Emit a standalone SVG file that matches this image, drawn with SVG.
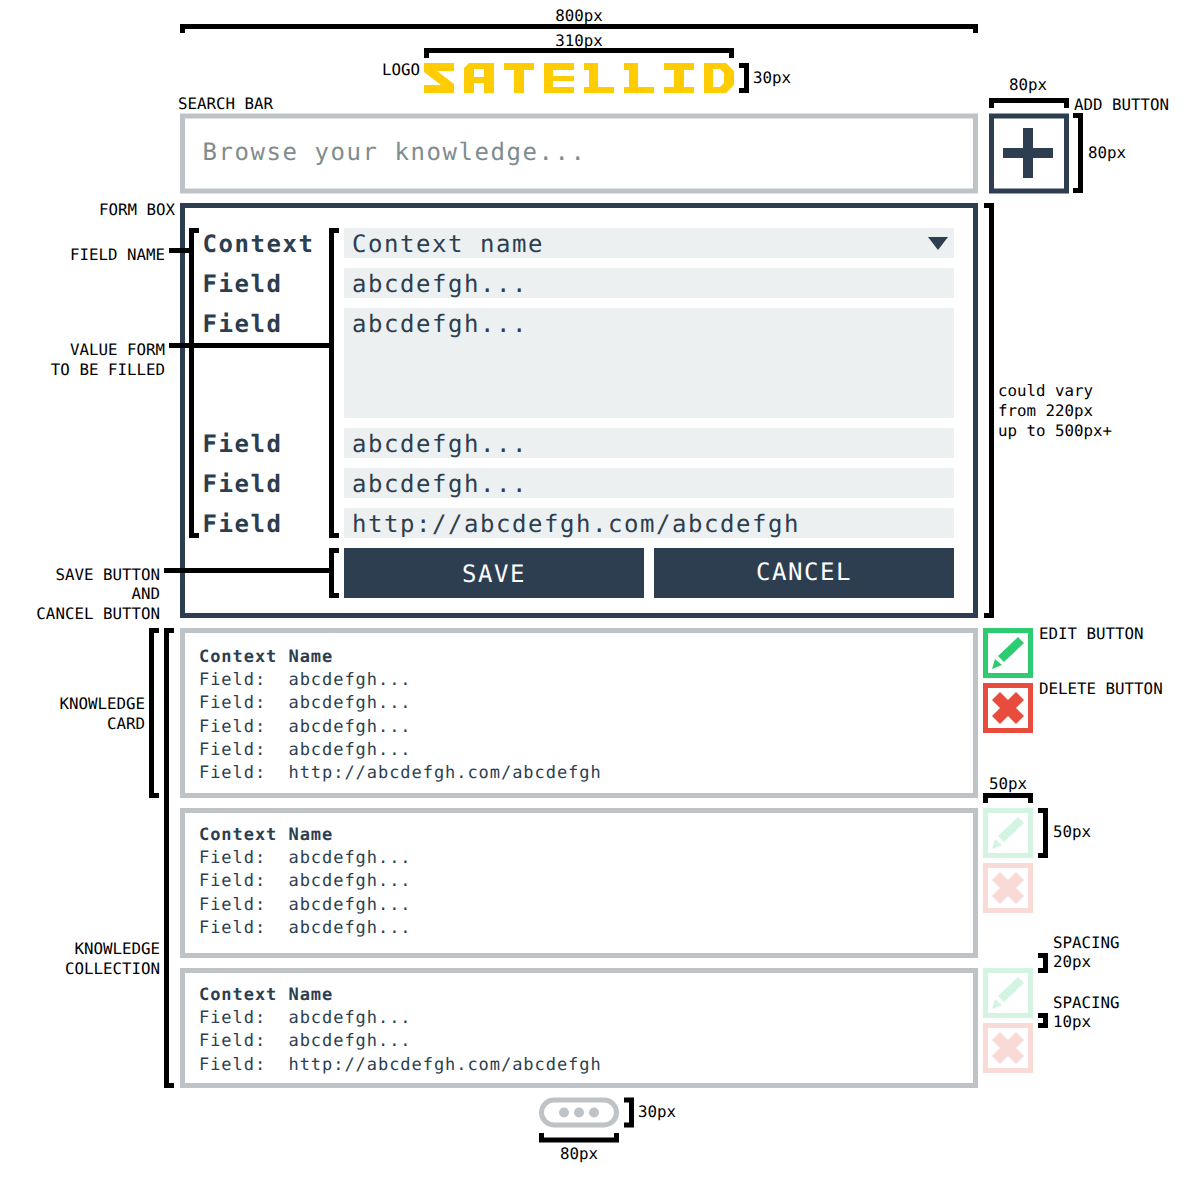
<svg xmlns="http://www.w3.org/2000/svg" width="1199" height="1199" viewBox="0 0 1199 1199">
<style>
text{text-rendering:geometricPrecision;white-space:pre}
.lb{font:15.800px "DejaVu Sans Mono",monospace;fill:#000}
.e{text-anchor:end}.m{text-anchor:middle}
.br{fill:none;stroke:#000;stroke-width:5}
.big{font:24px "DejaVu Sans Mono",monospace;letter-spacing:1.55px;fill:#2c3e50}
.ph{fill:#7f8c8d}
.cd{font:17px "DejaVu Sans Mono",monospace;letter-spacing:.95px;fill:#2c3e50}
.bb{font-weight:700}
.bx{fill:#fff;stroke-width:5}
.gr{stroke:#bdc3c7}.dk{stroke:#2c3e50}
.f{fill:#ecf0f1}.d{fill:#2c3e50}
.btxt{font:24px "DejaVu Sans Mono",monospace;letter-spacing:1.55px;fill:#fff;text-anchor:middle}
.y{fill:#fc0}
</style>
<defs>
<g id="edit"><rect x="2.5" y="2.5" width="45" height="45" fill="#fff" stroke="#2ecc71" stroke-width="5"/><path fill="#2ecc71" d="M35 9L41 15L21 34L15 28ZM9 41L12 31L19 37Z"/></g>
<g id="del"><rect x="2.5" y="2.5" width="45" height="45" fill="#fff" stroke="#e74c3c" stroke-width="5"/><path fill="#e74c3c" d="M17 9L25 17L33 9L41 17L33 25L41 33L33 41L25 33L17 41L9 33L17 25L9 17Z"/></g>
</defs>
<rect width="1199" height="1199" fill="#fff"/>

<g id="logo" class="y">
<path d="M424 63H454V71H437L454 84V93H424V85H441L424 72Z"/>
<path fill-rule="evenodd" d="M469 63H494V93H484V83H474V93H464V68ZM474 69V77H484V69Z"/>
<path d="M504 63H534V70H524V93H514V70H504Z"/>
<path d="M544 63H574V70H553V76H574V81H553V87H574V93H544Z"/>
<path d="M584 63H598V87H614V93H584V87H589V70H584Z"/>
<path d="M624 63H638V87H654V93H624V87H629V70H624Z"/>
<path d="M664 63H694V70H684V87H694V93H664V87H674V70H664Z"/>
<path fill-rule="evenodd" d="M704 63H726L734 71V85L726 93H704ZM713 69V87H720L724 83V73L720 69Z"/>
</g>

<g id="search-bar">
<rect class="bx gr" x="182.500" y="116" width="793" height="75"/>
<text class="big ph" x="202.500" y="160">Browse your knowledge...</text>
</g>

<g id="add-button">
<rect class="bx dk" x="991.500" y="116" width="75" height="75"/>
<path class="d" d="M1023 128H1033V148H1053V158H1033V178H1023V158H1003V148H1023Z"/>
</g>

<g id="form-box">
<rect class="bx dk" x="182.500" y="205.500" width="793" height="410"/>
<rect class="f" x="344" y="228" width="610" height="30"/>
<rect class="f" x="344" y="268" width="610" height="30"/>
<rect class="f" x="344" y="308" width="610" height="110"/>
<rect class="f" x="344" y="428" width="610" height="30"/>
<rect class="f" x="344" y="468" width="610" height="30"/>
<rect class="f" x="344" y="508" width="610" height="30"/>
<path class="d" d="M928 237H948L938 250Z"/>
<text class="big bb" x="202.500" y="252">Context</text>
<text class="big bb" x="202.500" y="292">Field</text>
<text class="big bb" x="202.500" y="332">Field</text>
<text class="big bb" x="202.500" y="452">Field</text>
<text class="big bb" x="202.500" y="492">Field</text>
<text class="big bb" x="202.500" y="532">Field</text>
<text class="big" x="352" y="252">Context name</text>
<text class="big" x="352" y="292">abcdefgh...</text>
<text class="big" x="352" y="332">abcdefgh...</text>
<text class="big" x="352" y="452">abcdefgh...</text>
<text class="big" x="352" y="492">abcdefgh...</text>
<text class="big" x="352" y="532">http://abcdefgh.com/abcdefgh</text>
<rect class="d" x="344" y="548" width="300" height="50"/>
<rect class="d" x="654" y="548" width="300" height="50"/>
<text class="btxt" x="494" y="582">SAVE</text>
<text class="btxt" x="804" y="580">CANCEL</text>
</g>

<g id="card-1">
<rect class="bx gr" x="182.500" y="630.500" width="793" height="165"/>
<text class="cd bb" x="199" y="662">Context Name</text>
<text class="cd" x="199" y="685">Field:  abcdefgh...</text>
<text class="cd" x="199" y="708">Field:  abcdefgh...</text>
<text class="cd" x="199" y="732">Field:  abcdefgh...</text>
<text class="cd" x="199" y="755">Field:  abcdefgh...</text>
<text class="cd" x="199" y="778">Field:  http://abcdefgh.com/abcdefgh</text>
</g>
<g id="card-2">
<rect class="bx gr" x="182.500" y="810.500" width="793" height="145"/>
<text class="cd bb" x="199" y="840">Context Name</text>
<text class="cd" x="199" y="863">Field:  abcdefgh...</text>
<text class="cd" x="199" y="886">Field:  abcdefgh...</text>
<text class="cd" x="199" y="910">Field:  abcdefgh...</text>
<text class="cd" x="199" y="933">Field:  abcdefgh...</text>
</g>
<g id="card-3">
<rect class="bx gr" x="182.500" y="970.500" width="793" height="115"/>
<text class="cd bb" x="199" y="1000">Context Name</text>
<text class="cd" x="199" y="1023">Field:  abcdefgh...</text>
<text class="cd" x="199" y="1046">Field:  abcdefgh...</text>
<text class="cd" x="199" y="1070">Field:  http://abcdefgh.com/abcdefgh</text>
</g>

<g id="edit-1"><use href="#edit" x="983" y="628"/></g>
<g id="delete-1"><use href="#del" x="983" y="683"/></g>
<g id="edit-2" opacity=".2"><use href="#edit" x="983" y="808"/></g>
<g id="delete-2" opacity=".2"><use href="#del" x="983" y="863"/></g>
<g id="edit-3" opacity=".2"><use href="#edit" x="983" y="968"/></g>
<g id="delete-3" opacity=".2"><use href="#del" x="983" y="1023"/></g>

<g id="pagination">
<rect class="bx gr" x="541.500" y="1100" width="75" height="25" rx="12.500"/>
<circle cx="564" cy="1112.500" r="5" fill="#bdc3c7"/>
<circle cx="579" cy="1112.500" r="5" fill="#bdc3c7"/>
<circle cx="594" cy="1112.500" r="5" fill="#bdc3c7"/>
</g>

<g id="connectors" class="br">
<path d="M182.500 33V26.500H975.500V33"/>
<path d="M426.500 58V50.500H731.500V58"/>
<path d="M739 65.500H746.500V90.500H739"/>
<path d="M991.500 108V100.500H1066.500V108"/>
<path d="M1073 115.500H1080.500V190.500H1073"/>
<path d="M984 205.500H991.500V615.500H984"/>
<path d="M199 230.500H191.500V535.500H199"/>
<path d="M169 250.500H189"/>
<path d="M339 230.500H331.500V535.500H339"/>
<path d="M169 345.500H329"/>
<path d="M339 550.500H331.500V595.500H339"/>
<path d="M164 570.500H329"/>
<path d="M159 630.500H151.500V795.500H159"/>
<path d="M174 630.500H166.500V1085.500H174"/>
<path d="M985.500 803V795.500H1030.500V803"/>
<path d="M1038 810.500H1045.500V855.500H1038"/>
<path d="M1038 955.500H1045.500V970.500H1038"/>
<path d="M1038 1015.500H1045.500V1025.500H1038"/>
<path d="M624 1100H631.500V1125H624"/>
<path d="M541.500 1133V1140H616.500V1133"/>
</g>

<g id="labels" class="lb">
<text class="lb m" x="579" y="21">800px</text>
<text class="lb m" x="579" y="46">310px</text>
<text class="lb" x="382" y="75">LOGO</text>
<text class="lb" x="753" y="83">30px</text>
<text class="lb" x="178" y="109">SEARCH BAR</text>
<text class="lb m" x="1028" y="90">80px</text>
<text class="lb" x="1074" y="110">ADD BUTTON</text>
<text class="lb" x="1088" y="158">80px</text>
<text class="lb e" x="175" y="215">FORM BOX</text>
<text class="lb e" x="165" y="260">FIELD NAME</text>
<text class="lb e" x="165" y="355">VALUE FORM</text>
<text class="lb e" x="165" y="375">TO BE FILLED</text>
<text class="lb e" x="160" y="580">SAVE BUTTON</text>
<text class="lb e" x="160" y="599">AND</text>
<text class="lb e" x="160" y="619">CANCEL BUTTON</text>
<text class="lb e" x="145" y="709">KNOWLEDGE</text>
<text class="lb e" x="145" y="729">CARD</text>
<text class="lb e" x="160" y="954">KNOWLEDGE</text>
<text class="lb e" x="160" y="974">COLLECTION</text>
<text class="lb" x="998" y="396">could vary</text>
<text class="lb" x="998" y="416">from 220px</text>
<text class="lb" x="998" y="436">up to 500px+</text>
<text class="lb" x="1039" y="639">EDIT BUTTON</text>
<text class="lb" x="1039" y="694">DELETE BUTTON</text>
<text class="lb m" x="1008" y="789">50px</text>
<text class="lb" x="1053" y="837">50px</text>
<text class="lb" x="1053" y="948">SPACING</text>
<text class="lb" x="1053" y="967">20px</text>
<text class="lb" x="1053" y="1008">SPACING</text>
<text class="lb" x="1053" y="1027">10px</text>
<text class="lb" x="638" y="1117">30px</text>
<text class="lb m" x="579" y="1159">80px</text>
</g>
</svg>
